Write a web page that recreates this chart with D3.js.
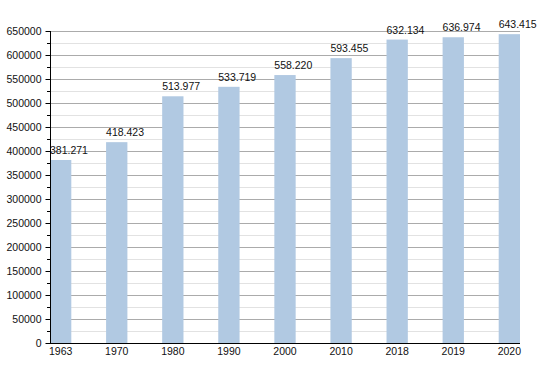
<!DOCTYPE html>
<html>
<head>
<meta charset="utf-8">
<script src="https://cdn.jsdelivr.net/npm/d3@7"></script>
<style>
  body { margin: 0; background: #fff; }
  text { font-family: 'Liberation Sans', Arial, sans-serif; fill: #111; }
</style>
</head>
<body>
<div id="chart"></div>
<script>
const years = ['1963', '1970', '1980', '1990', '2000', '2010', '2018', '2019', '2020'];
const population = [381271, 418423, 513977, 533719, 558220, 593455, 632134, 636974, 643415];
const yTicks = [0, 50000, 100000, 150000, 200000, 250000, 300000, 350000, 400000, 450000, 500000, 550000, 600000, 650000];

const width = 550;
const height = 373;
const plotLeft = 50;
const plotRight = 520;
const plotTop = 31;
const plotBottom = 343;

const svg = d3
  .select('#chart')
  .append('svg')
  .attr('width', width)
  .attr('height', height);

const x = d3
  .scaleBand()
  .domain(years)
  .range([plotLeft, plotRight])
  .paddingInner(0.62)
  .paddingOuter(0);

const y = d3
  .scaleLinear()
  .domain([0, 650000])
  .range([plotBottom, plotTop]);

const minorTicks = d3.range(25000, 650000, 50000);

// minor grid
svg
  .append('g')
  .selectAll('line')
  .data(minorTicks)
  .enter()
  .append('line')
  .attr('x1', plotLeft)
  .attr('x2', plotRight)
  .attr('y1', d => Math.round(y(d)) + 0.5)
  .attr('y2', d => Math.round(y(d)) + 0.5)
  .style('stroke', '#e2e2e2');

// major grid
svg
  .append('g')
  .selectAll('line')
  .data(yTicks.slice(1))
  .enter()
  .append('line')
  .attr('x1', plotLeft)
  .attr('x2', plotRight)
  .attr('y1', d => Math.round(y(d)) + 0.5)
  .attr('y2', d => Math.round(y(d)) + 0.5)
  .style('stroke', '#ababab');

// bars
svg
  .append('g')
  .selectAll('rect')
  .data(population)
  .enter()
  .append('rect')
  .attr('x', (d, i) => x(years[i]))
  .attr('y', d => y(d))
  .attr('width', x.bandwidth())
  .attr('height', d => plotBottom - y(d))
  .attr('fill', '#b1c9e2');

// value labels
const fmt = d3.formatLocale({ decimal: ',', thousands: '.', grouping: [3], currency: ['', ''] }).format(',d');
svg
  .append('g')
  .selectAll('text')
  .data(population)
  .enter()
  .append('text')
  .attr('x', (d, i) => x(years[i]))
  .attr('y', d => y(d) - 6)
  .style('font-size', '10.5px')
  .text(d => fmt(d));

// y axis
const yAxis = d3
  .axisLeft(y)
  .tickValues(yTicks)
  .tickFormat(d3.format('d'))
  .tickSize(5)
  .tickPadding(4);

const yg = svg
  .append('g')
  .attr('transform', 'translate(' + (plotLeft + 0.5) + ',0)')
  .call(yAxis);
yg.select('.domain').remove();
yg.selectAll('.tick line').style('stroke', '#000');
yg.selectAll('text').style('font-size', '10.5px').style('font-family', "'Liberation Sans', Arial, sans-serif");

svg
  .append('g')
  .selectAll('line')
  .data(minorTicks)
  .enter()
  .append('line')
  .attr('x1', plotLeft - 3)
  .attr('x2', plotLeft)
  .attr('y1', d => Math.round(y(d)) + 0.5)
  .attr('y2', d => Math.round(y(d)) + 0.5)
  .style('stroke', '#000');

svg
  .append('line')
  .attr('x1', plotLeft + 0.5)
  .attr('x2', plotLeft + 0.5)
  .attr('y1', plotTop)
  .attr('y2', plotBottom)
  .style('stroke', '#000');

// x axis
const xAxis = d3.axisBottom(x).tickSize(0).tickPadding(5);
const xg = svg
  .append('g')
  .attr('transform', 'translate(0,' + plotBottom + ')')
  .call(xAxis);
xg.select('.domain').remove();
xg.selectAll('text').style('font-size', '10.5px').style('font-family', "'Liberation Sans', Arial, sans-serif");

svg
  .append('line')
  .attr('x1', plotLeft)
  .attr('x2', plotRight)
  .attr('y1', plotBottom + 0.5)
  .attr('y2', plotBottom + 0.5)
  .style('stroke', '#000');
</script>
</body>
</html>
